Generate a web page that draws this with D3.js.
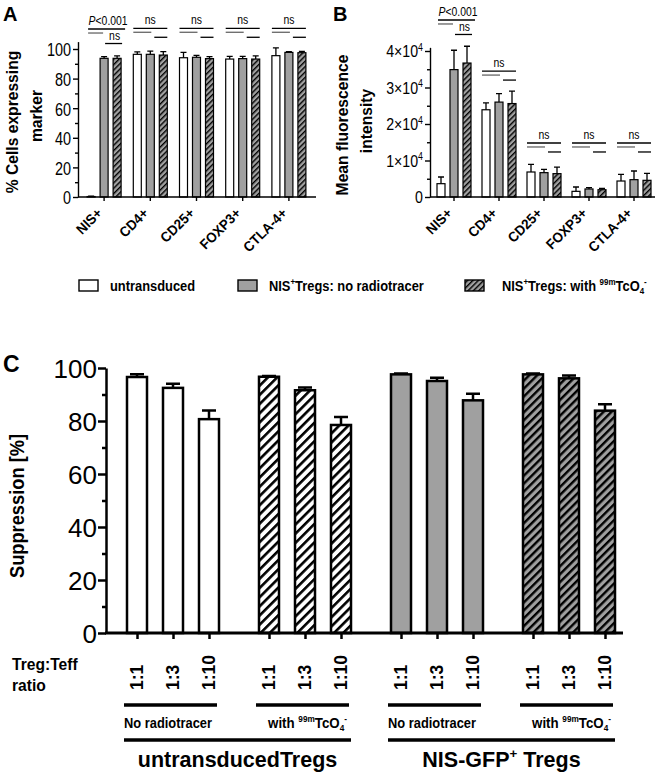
<!DOCTYPE html>
<html><head><meta charset="utf-8">
<script src="https://cdn.jsdelivr.net/npm/d3@7"></script>
<style>
body{margin:0;background:#fff}
svg{display:block}
text{font-family:"Liberation Sans",Arial,sans-serif;fill:#000}
</style>
</head><body>
<svg id="c" width="660" height="776"></svg>
<script>
// ---------------- data ----------------
const markers = ["NIS+", "CD4+", "CD25+", "FOXP3+", "CTLA-4+"];
const seriesAB = ["untransduced", "NIS+Tregs: no radiotracer", "NIS+Tregs: with 99mTcO4-"];

const pctUntrans        = [0.3, 96.4, 94.1, 93.2, 95.5];
const pctUntransErr     = [0.3, 1.6, 3.6, 1.8, 5.2];
const pctNoTracer       = [93.7, 96.4, 94.4, 93.5, 97.7];
const pctNoTracerErr    = [1.1, 2.2, 1.3, 1.5, 0.5];
const pctWithTracer     = [93.7, 95.9, 93.5, 93.2, 97.5];
const pctWithTracerErr  = [1.6, 2.3, 1.3, 2.1, 0.9];

const mfiUntrans        = [3650, 23900, 6850, 1550, 4380];
const mfiUntransErr     = [1830, 1900, 2100, 1190, 1830];
const mfiNoTracer       = [34900, 26000, 6670, 2200, 4750];
const mfiNoTracerErr    = [5300, 2300, 910, 360, 2370];
const mfiWithTracer     = [36700, 25600, 6400, 2000, 4570];
const mfiWithTracerErr  = [4600, 3400, 1800, 370, 1910];

const pctTicks  = [0, 20, 40, 60, 80, 100];
const pctMinor  = [10, 30, 50, 70, 90];
const mfiTicks  = [0, 10000, 20000, 30000, 40000];
const mfiMinor  = [5000, 15000, 25000, 35000];

// significance annotations (label, level in data units)
const sigLabelsA = ["P<0.001", "ns", "ns", "ns", "ns"];
const sigLevelsA = [113.5, 114, 114, 114, 114];
const sigLabelsB = ["P<0.001", "ns", "ns", "ns", "ns"];
const sigLevelsB = [48500, 34500, 14800, 14800, 14800];

const ratios     = ["1:1", "1:3", "1:10"];
const conditions = ["No radiotracer", "with 99mTcO4-", "No radiotracer", "with 99mTcO4-"];
const tregTypes  = ["untransducedTregs", "NIS-GFP+ Tregs"];

const supUntransNo      = [96.6, 92.5, 80.7];
const supUntransNoErr   = [1.0, 1.6, 3.3];
const supUntransWith    = [96.7, 91.6, 78.5];
const supUntransWithErr = [0.3, 1.0, 3.0];
const supNisNo          = [97.6, 95.1, 87.8];
const supNisNoErr       = [0.3, 1.2, 2.5];
const supNisWith        = [97.6, 96.1, 83.9];
const supNisWithErr     = [0.3, 1.1, 2.4];
const suppTicks = [0, 20, 40, 60, 80, 100];
const suppMinor = [10, 30, 50, 70, 90];

// ---------------- helpers ----------------
const svg = d3.select("#c");
const defs = svg.append("defs");
function stripes(id, bg, size, w) {
  const p = defs.append("pattern").attr("id", id).attr("patternUnits", "userSpaceOnUse")
    .attr("width", size).attr("height", size).attr("patternTransform", "rotate(45)");
  p.append("rect").attr("width", size).attr("height", size).attr("fill", bg);
  p.append("rect").attr("width", w).attr("height", size).attr("fill", "#000");
}
stripes("hAB", "#a0a0a0", 3.8, 1.4);
stripes("hCw", "#ffffff", 6.5, 2.6);
stripes("hCg", "#a0a0a0", 5.6, 2.4);

function rich(g, x, y, segs, o = {}) {
  const size = o.size || 12, sx = o.sx || 1;
  const t = g.append("text")
    .attr("transform", `translate(${x},${y}) rotate(${o.rot || 0}) scale(${sx},1)`)
    .attr("text-anchor", o.anchor || "start")
    .style("font-size", size + "px")
    .style("font-weight", o.weight || "normal");
  let shift = 0;
  (typeof segs === "string" ? [segs] : segs).forEach(s => {
    const seg = typeof s === "string" ? { t: s } : s;
    const target = seg.sup ? -size * 0.4 : seg.sub ? size * 0.22 : 0;
    const ts = t.append("tspan").text(seg.t).attr("dy", target - shift);
    if (seg.sup || seg.sub) ts.style("font-size", (size * 0.62) + "px");
    if (seg.it) ts.style("font-style", "italic");
    shift = target;
  });
  return t;
}

// ---------------- panels A & B ----------------
function barPanel(cfg) {
  const g = svg.append("g");
  const x = d3.scaleBand().domain(markers).range(cfg.xr);
  const cx = d => x(d) + x.bandwidth() / 2;
  const inner = d3.scalePoint().domain(seriesAB).range([-13, 13]);
  const y = d3.scaleLinear().domain(cfg.ydom).range([197, cfg.ytop]);
  const fills = ["#ffffff", "#a0a0a0", "url(#hAB)"];
  const bw = 8;

  cfg.series.forEach((s, si) => {
    const key = seriesAB[si];
    g.selectAll(null).data(markers).join("rect")
      .attr("x", d => cx(d) + inner(key) - bw / 2)
      .attr("y", (d, i) => y(s.v[i]))
      .attr("width", bw)
      .attr("height", (d, i) => y(0) - y(s.v[i]))
      .attr("fill", fills[si]).attr("stroke", "#000").attr("stroke-width", 1.2);
    g.selectAll(null).data(markers).join("path")
      .attr("d", (d, i) => {
        const xx = cx(d) + inner(key), y0 = y(s.v[i]), y1 = y(s.v[i] + s.e[i]);
        return `M${xx},${y0}V${y1}M${xx - 3},${y1}H${xx + 3}`;
      })
      .attr("fill", "none").attr("stroke", "#000").attr("stroke-width", 1.3);
  });

  // y axis
  const ya = g.append("g").attr("transform", `translate(${cfg.ax},0)`)
    .call(d3.axisLeft(y).tickValues(cfg.ticks).tickSize(5).tickPadding(2).tickSizeOuter(0).tickFormat(cfg.fmt ? "" : d3.format("d")));
  g.append("g").attr("transform", `translate(${cfg.ax},0)`)
    .call(d3.axisLeft(y).tickValues(cfg.minor).tickSize(3).tickFormat("").tickSizeOuter(0))
    .call(a => a.select(".domain").remove());
  g.selectAll(".tick line, .domain").attr("stroke", "#000").attr("stroke-width", 1.4);
  ya.selectAll(".tick text").each(function (d) {
    const p = d3.select(this.parentNode);
    d3.select(this).remove();
    const segs = cfg.fmt ? cfg.fmt(d) : [String(d)];
    rich(p, -7, cfg.tickSize * 0.36, segs, { size: cfg.tickSize, sx: cfg.tickSx, anchor: "end" });
  });

  // x axis
  const xa = g.append("g").attr("transform", "translate(0,197)")
    .call(d3.axisBottom(x).tickSize(4).tickFormat("").tickSizeOuter(0));
  xa.select(".domain").remove();
  xa.selectAll(".tick line").attr("stroke", "#000").attr("stroke-width", 1.4);
  g.append("line").attr("x1", cfg.ax).attr("x2", cfg.xend).attr("y1", 197).attr("y2", 197)
    .attr("stroke", "#000").attr("stroke-width", 1.5);
  markers.forEach(m => {
    rich(g, cx(m) - 1, 214, m, { size: 14, weight: "bold", sx: 0.95, rot: -45, anchor: "end" });
  });

  // significance
  markers.forEach((m, gi) => {
    const c = cx(m);
    const l0 = c + inner(seriesAB[0]) - bw / 2, r2 = c + inner(seriesAB[2]) + bw / 2;
    const c1 = c + inner(seriesAB[1]);
    const L = y(cfg.sigLevels[gi]);
    const ln = (xa1, xa2, yy, col) => g.append("line").attr("x1", xa1).attr("x2", xa2)
      .attr("y1", yy).attr("y2", yy).attr("stroke", col).attr("stroke-width", 1.3);
    if (cfg.sigLabels[gi].startsWith("P")) {
      rich(g, c + 4, L - 4, [{ t: "P", it: true }, "<0.001"], { size: 13, sx: 0.8, anchor: "middle" });
      ln(l0 + 1, r2 + 4, L, "#000");
      ln(l0 + 1, c1 - 1, L + 4, "#666");
      rich(g, (c1 + r2) / 2 + 2, L + 11, "ns", { size: 13, sx: 0.8, anchor: "middle" });
      ln(c1 + 1, r2 + 1, L + 14.5, "#000");
    } else {
      rich(g, c, L - 4, cfg.sigLabels[gi], { size: 13, sx: 0.8, anchor: "middle" });
      ln(l0, r2, L, "#000");
      ln(l0, c1 + 1, L + 4, "#666");
      ln(c1 + 4, r2, L + 9, "#000");
    }
  });

  // y label
  cfg.ylab.forEach((line, i) => {
    rich(g, cfg.ylabX[i], cfg.ylabY[i], line, { size: 17, weight: "bold", sx: 0.92, rot: -90, anchor: "middle" });
  });
  rich(g, cfg.letterX, 21, cfg.letter, { size: 20, weight: "bold" });
}

barPanel({
  letter: "A", letterX: 3,
  xr: [81, 312], ax: 78, xend: 316,
  ydom: [0, 105], ytop: 197 - 105 * 1.48,
  ticks: pctTicks, minor: pctMinor, tickSize: 19, tickSx: 0.76,
  series: [{ v: pctUntrans, e: pctUntransErr }, { v: pctNoTracer, e: pctNoTracerErr }, { v: pctWithTracer, e: pctWithTracerErr }],
  sigLabels: sigLabelsA, sigLevels: sigLevelsA,
  ylab: ["% Cells expressing", "marker"], ylabX: [18, 42], ylabY: [122, 116]
});

barPanel({
  letter: "B", letterX: 333,
  xr: [431.5, 656.5], ax: 430, xend: 655,
  ydom: [0, 41000], ytop: 197 - 41000 * 146 / 40000,
  ticks: mfiTicks, minor: mfiMinor, tickSize: 16.5, tickSx: 0.86,
  fmt: d => d === 0 ? ["0"] : [String(d / 10000) + "\u00d710", { t: "4", sup: true }],
  series: [{ v: mfiUntrans, e: mfiUntransErr }, { v: mfiNoTracer, e: mfiNoTracerErr }, { v: mfiWithTracer, e: mfiWithTracerErr }],
  sigLabels: sigLabelsB, sigLevels: sigLevelsB,
  ylab: ["Mean fluorescence", "intensity"], ylabX: [348, 372], ylabY: [125, 121]
});

// ---------------- legend ----------------
{
  const g = svg.append("g");
  const items = [
    { x: 79, fill: "#ffffff", segs: ["untransduced"] },
    { x: 238, fill: "#a0a0a0", segs: ["NIS", { t: "+", sup: true }, "Tregs: no radiotracer"] },
    { x: 465, fill: "url(#hAB)", segs: ["NIS", { t: "+", sup: true }, "Tregs: with ", { t: "99m", sup: true }, "TcO", { t: "4", sub: true }, { t: "-", sup: true }] }
  ];
  items.forEach((it, i) => {
    g.append("rect").attr("x", it.x).attr("y", 280).attr("width", 19).attr("height", 11)
      .attr("fill", it.fill).attr("stroke", "#000").attr("stroke-width", 1.4);
    rich(g, it.x + (i === 2 ? 37 : 31), 291, it.segs, { size: 14, weight: "bold", sx: 0.92 });
  });
}

// ---------------- panel C ----------------
{
  const g = svg.append("g");
  const conds = [
    { key: "u-no", v: supUntransNo, e: supUntransNoErr, fill: "#ffffff" },
    { key: "u-with", v: supUntransWith, e: supUntransWithErr, fill: "url(#hCw)" },
    { key: "n-no", v: supNisNo, e: supNisNoErr, fill: "#a0a0a0" },
    { key: "n-with", v: supNisWith, e: supNisWithErr, fill: "url(#hCg)" }
  ];
  const x = d3.scaleBand().domain(conds.map(c => c.key)).range([107, 635]);
  const cx = k => x(k) + x.bandwidth() / 2;
  const inner = d3.scalePoint().domain(ratios).range([-36, 36]);
  const y = d3.scaleLinear().domain([0, 100]).range([633, 368]);
  const bw = 20;

  conds.forEach(c => {
    g.selectAll(null).data(ratios).join("rect")
      .attr("x", r => cx(c.key) + inner(r) - bw / 2)
      .attr("y", (r, i) => y(c.v[i]))
      .attr("width", bw).attr("height", (r, i) => y(0) - y(c.v[i]))
      .attr("fill", c.fill).attr("stroke", "#000").attr("stroke-width", 2.5);
    g.selectAll(null).data(ratios).join("path")
      .attr("d", (r, i) => {
        const xx = cx(c.key) + inner(r), y0 = y(c.v[i]), y1 = y(c.v[i] + c.e[i]);
        return `M${xx},${y0}V${y1}M${xx - 7},${y1}H${xx + 7}`;
      })
      .attr("fill", "none").attr("stroke", "#000").attr("stroke-width", 2.5);
    const xa = g.append("g").attr("transform", `translate(${cx(c.key)},633)`)
      .call(d3.axisBottom(inner).tickSize(6).tickFormat("").tickSizeOuter(0));
    xa.select(".domain").remove();
    xa.selectAll(".tick line").attr("stroke", "#000").attr("stroke-width", 2.5);
    ratios.forEach(r => rich(g, cx(c.key) + inner(r) + 6, 690, r, { size: 17.5, weight: "bold", rot: -90, sx: 1 }));
  });

  const ya = g.append("g").attr("transform", "translate(106,0)")
    .call(d3.axisLeft(y).tickValues(suppTicks).tickSize(8).tickPadding(1).tickSizeOuter(0));
  g.append("g").attr("transform", "translate(106,0)")
    .call(d3.axisLeft(y).tickValues(suppMinor).tickSize(4).tickFormat("").tickSizeOuter(0))
    .call(a => a.select(".domain").remove());
  g.selectAll(".tick line, .domain").attr("stroke", "#000").attr("stroke-width", 2.5);
  ya.selectAll(".tick text").style("font-size", "26px").attr("dy", "0.36em");
  g.append("line").attr("x1", 105).attr("x2", 623).attr("y1", 633).attr("y2", 633)
    .attr("stroke", "#000").attr("stroke-width", 2.8);

  rich(g, 24, 506, "Suppression [%]", { size: 21, weight: "bold", rot: -90, sx: 0.87, anchor: "middle" });
  rich(g, 3, 372, "C", { size: 23, weight: "bold" });
  rich(g, 12, 670, "Treg:Teff", { size: 17, weight: "bold", sx: 0.92 });
  rich(g, 12, 691, "ratio", { size: 17, weight: "bold", sx: 0.92 });

  const condSegs = [
    ["No radiotracer"],
    ["with ", { t: "99m", sup: true }, "TcO", { t: "4", sub: true }, { t: "-", sup: true }]
  ];
  conds.forEach((c, i) => {
    const a = cx(c.key) + inner(ratios[0]) - 13, b = cx(c.key) + inner(ratios[2]) + 8;
    g.append("line").attr("x1", a).attr("x2", b).attr("y1", 705).attr("y2", 705)
      .attr("stroke", "#000").attr("stroke-width", 3.5);
    if (conditions[i] === "No radiotracer") rich(g, a, 728, condSegs[0], { size: 14, weight: "bold", sx: 0.92 });
    else rich(g, b - 2, 728, condSegs[1], { size: 14, weight: "bold", sx: 0.95, anchor: "end" });
  });
  tregTypes.forEach((t, ti) => {
    const k1 = conds[ti * 2].key, k2 = conds[ti * 2 + 1].key;
    const a = cx(k1) + inner(ratios[0]) - 13, b = cx(k2) + inner(ratios[2]) + 10;
    g.append("line").attr("x1", a).attr("x2", b).attr("y1", 740).attr("y2", 740)
      .attr("stroke", "#000").attr("stroke-width", 3.5);
    const segs = t === "NIS-GFP+ Tregs" ? ["NIS-GFP", { t: "+", sup: true }, " Tregs"] : [t];
    rich(g, (a + b) / 2, 767, segs, { size: 21.5, weight: "bold", anchor: "middle" });
  });
}
</script>
</body></html>
